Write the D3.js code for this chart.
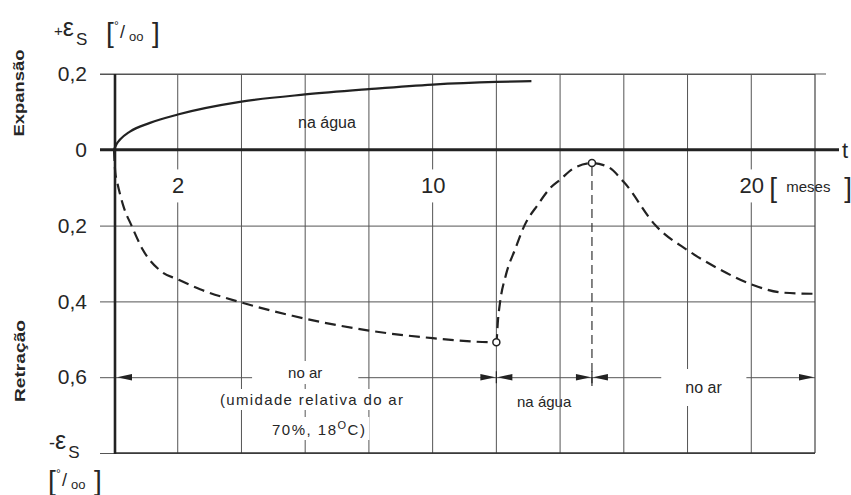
<!DOCTYPE html>
<html><head><meta charset="utf-8">
<script src="https://cdn.jsdelivr.net/npm/d3@7/dist/d3.min.js"></script>
<style>body{margin:0;background:#fff}svg{display:block}</style>
</head><body><svg id="c" width="851" height="495"></svg>
<script>
// ---------- data ----------
const solidT = [0, 0.08, 0.19, 0.5, 1.13, 2, 4, 6, 8, 10, 12, 13.1];
const solidV = [0, 0.015, 0.027, 0.048, 0.071, 0.093, 0.127, 0.146, 0.16, 0.172, 0.179, 0.181];
const dashedT = [0, 0.04, 0.1, 0.3, 0.55, 0.9, 1.5, 2, 2.7, 4, 5.6, 8, 10, 12,
                 12.05, 12.12, 12.3, 12.6, 12.88, 13.3, 13.7, 14, 14.4, 15,
                 15.5, 16, 17, 18, 19, 20, 21, 22];
const dashedV = [0, -0.06, -0.085, -0.15, -0.2, -0.263, -0.322, -0.342, -0.368, -0.403, -0.438, -0.477, -0.497, -0.508,
                 -0.45, -0.4, -0.33, -0.26, -0.2, -0.145, -0.1, -0.079, -0.05, -0.035,
                 -0.045, -0.085, -0.2, -0.265, -0.315, -0.355, -0.377, -0.38];
const markerT = [12, 15];
const markerV = [-0.508, -0.035];
const gridT = [2, 4, 6, 8, 10, 12, 14, 16, 18, 20];
const gridV = [0.2, -0.2, -0.4, -0.6, -0.8];
const yTicks = [0.2, 0, -0.2, -0.4, -0.6];
const xTicks = [2, 10, 20];
const phaseBounds = [0, 12, 15, 22];
const phaseLabels = ["no ar", "na água", "no ar"];
const phaseLevel = -0.6;

// ---------- setup ----------
const svg = d3.select("#c");
const FONT = "'Liberation Sans', Arial, sans-serif";
const INK = "#262626";
const x = d3.scaleLinear().domain([0, 22]).range([114, 815]);
const y = d3.scaleLinear().domain([-0.8, 0.2]).range([453, 74]);

const gGrid = svg.append("g");
const gMask = svg.append("g");
const gMain = svg.append("g");

function mask(node, px, py) {
  const b = node.getBoundingClientRect();
  gMask.append("rect").attr("x", b.left - px).attr("y", b.top - py)
    .attr("width", b.width + 2 * px).attr("height", b.height + 2 * py).attr("fill", "#fff");
}

// ---------- grid ----------
gGrid.selectAll("line.v").data(gridT).join("line")
  .attr("x1", d => x(d)).attr("x2", d => x(d))
  .attr("y1", y(0.2)).attr("y2", y(-0.8))
  .attr("stroke", "#555").attr("stroke-width", 1);

const gh = gGrid.append("g").attr("transform", "translate(100,0)")
  .call(d3.axisLeft(y).tickValues(gridV).tickSize(-(x(22) - 100)).tickFormat(""));
gh.select(".domain").remove();
gh.selectAll("line").attr("stroke", "#555").attr("stroke-width", 1);

// ---------- frame ----------
gMain.append("line").attr("x1", 100).attr("x2", 826).attr("y1", y(0.2)).attr("y2", y(0.2))
  .attr("stroke", "#555").attr("stroke-width", 1.2);
gMain.append("line").attr("x1", x(22)).attr("x2", x(22)).attr("y1", y(0.2)).attr("y2", y(-0.8))
  .attr("stroke", "#444").attr("stroke-width", 1.2);
gMain.append("line").attr("x1", x(0)).attr("x2", x(22)).attr("y1", y(-0.8)).attr("y2", y(-0.8))
  .attr("stroke", "#333").attr("stroke-width", 1.6);
gMain.append("line").attr("x1", x(0) + 1).attr("x2", x(0) + 1).attr("y1", y(0.2)).attr("y2", y(-0.8) + 1)
  .attr("stroke", "#222").attr("stroke-width", 2.6);
gMain.append("line").attr("x1", 100).attr("x2", 839).attr("y1", y(0)).attr("y2", y(0))
  .attr("stroke", "#222").attr("stroke-width", 3);

// ---------- axis labels ----------
const fmtY = d => d === 0 ? "0" : Math.abs(d).toFixed(1).replace(".", ",");
const gyl = gMain.append("g").attr("transform", "translate(100,0)")
  .call(d3.axisLeft(y).tickValues(yTicks).tickFormat(fmtY).tickSize(0).tickPadding(13));
gyl.select(".domain").remove();
gyl.selectAll("text").attr("font-family", FONT).attr("font-size", 21).attr("fill", INK);

const gxl = gMain.append("g").attr("transform", `translate(0,${y(0)})`)
  .call(d3.axisBottom(x).tickValues(xTicks).tickFormat(d => d).tickSize(0).tickPadding(28));
gxl.select(".domain").remove();
gxl.selectAll("text").attr("font-family", FONT).attr("font-size", 22).attr("fill", INK);
gxl.selectAll("text").each(function () { mask(this, 4, 4); });

// units of the time axis
const unitG = gMain.append("g");
const ub1 = unitG.append("text").attr("x", x(20) + 18).attr("y", 197).attr("font-family", FONT)
  .attr("font-size", 28).attr("font-weight", 300).attr("fill", INK).text("[");
const ub2 = unitG.append("text").attr("x", x(20) + 35).attr("y", 192).attr("font-family", FONT)
  .attr("font-size", 15).attr("fill", INK).text("meses");
const ub3 = unitG.append("text").attr("x", x(20) + 93).attr("y", 197).attr("font-family", FONT)
  .attr("font-size", 28).attr("fill", INK).text("]");
mask(ub1.node(), 3, 0); mask(ub2.node(), 3, 6); mask(ub3.node(), 2, 0);
gMain.append("text").attr("x", 842).attr("y", 158).attr("font-family", FONT)
  .attr("font-size", 22).attr("fill", INK).text("t");

// strain symbols
function strain(g, x0, y0, sign) {
  const t = g.append("text").attr("font-family", FONT).attr("fill", INK);
  t.append("tspan").attr("x", x0).attr("y", y0).attr("font-size", sign === "+" ? 15 : 18).text(sign);
  t.append("tspan").attr("font-size", 25).text("ε");
  t.append("tspan").attr("dy", 9).attr("dx", 2).attr("font-size", 17).text("S");
}
function perMille(g, x0, y0) {
  const t = g.append("text").attr("font-family", FONT).attr("fill", INK);
  t.append("tspan").attr("x", x0).attr("y", y0).attr("font-size", 28).text("[");
  t.append("tspan").attr("x", x0 + 8).attr("y", y0 - 12).attr("font-size", 12).text("°");
  t.append("tspan").attr("x", x0 + 14).attr("y", y0 - 4).attr("font-size", 18).text("/");
  t.append("tspan").attr("x", x0 + 23).attr("y", y0 - 1).attr("font-size", 13).text("oo");
  t.append("tspan").attr("x", x0 + 46).attr("y", y0).attr("font-size", 28).text("]");
}
strain(gMain, 54, 36, "+");
perMille(gMain, 106, 42);
strain(gMain, 49, 449, "-");
perMille(gMain, 48, 490);

gMain.append("text").attr("transform", "translate(24,93) rotate(-90)")
  .attr("text-anchor", "middle").attr("font-family", FONT).attr("font-weight", "bold")
  .attr("font-size", 15).attr("textLength", 87).attr("lengthAdjust", "spacingAndGlyphs")
  .attr("fill", INK).text("Expansão");
gMain.append("text").attr("transform", "translate(25,361) rotate(-90)")
  .attr("text-anchor", "middle").attr("font-family", FONT).attr("font-weight", "bold")
  .attr("font-size", 15).attr("textLength", 82).attr("lengthAdjust", "spacingAndGlyphs")
  .attr("fill", INK).text("Retração");

// ---------- curves ----------
const line = d3.line().x(d => x(d[0])).y(d => y(d[1])).curve(d3.curveMonotoneX);
gMain.append("path").datum(solidT.map((t, i) => [t, solidV[i]]))
  .attr("d", line).attr("fill", "none").attr("stroke", "#222").attr("stroke-width", 2.2);
gMain.append("path").datum(dashedT.map((t, i) => [t, dashedV[i]]))
  .attr("d", line).attr("fill", "none").attr("stroke", "#222").attr("stroke-width", 2.2)
  .attr("stroke-dasharray", "11,6");

// vertical dashed marker from peak
gMain.append("line").attr("x1", x(markerT[1])).attr("x2", x(markerT[1]))
  .attr("y1", y(markerV[1]) + 4).attr("y2", y(phaseLevel) + 10)
  .attr("stroke", "#333").attr("stroke-width", 1.2).attr("stroke-dasharray", "9,5");
gMain.selectAll("circle.m").data(markerT).join("circle")
  .attr("cx", d => x(d)).attr("cy", (d, i) => y(markerV[i])).attr("r", 3.5)
  .attr("fill", "#fff").attr("stroke", "#222").attr("stroke-width", 1.5);

// ---------- phases ----------
const py = y(phaseLevel);
function arrow(tip, dir) {
  const L = 15, h = 3.2;
  gMain.append("path")
    .attr("d", `M${tip},${py} L${tip - dir * L},${py - h} L${tip - dir * L},${py + h} Z`)
    .attr("fill", "#222");
}
phaseBounds.forEach((b, i) => {
  if (i > 0) arrow(x(b) - 1, 1);
  if (i < phaseBounds.length - 1) arrow(x(b) + (i === 0 ? 3 : 1), -1);
});
phaseBounds.slice(1).forEach((b, i) => {
  if (i < phaseBounds.length - 2) {
    gMain.append("line").attr("x1", x(b)).attr("x2", x(b)).attr("y1", py - 6).attr("y2", py + 6)
      .attr("stroke", "#222").attr("stroke-width", 1.2);
  }
});

function label(tx, ty, str, size, ls) {
  return gMain.append("text").attr("x", tx).attr("y", ty).attr("text-anchor", "middle")
    .attr("font-family", FONT).attr("font-size", size).attr("letter-spacing", ls || 0)
    .attr("fill", INK).text(str);
}
const mid = i => x((phaseBounds[i] + phaseBounds[i + 1]) / 2);
const l1 = label(mid(0), 378, phaseLabels[0], 15);
mask(l1.node(), 36, 3);
const l1b = label(mid(0) + 7, 405, "(umidade relativa do ar", 15, 1.35);
mask(l1b.node(), 3, 2);
const l1c = gMain.append("text").attr("x", mid(0) + 14).attr("y", 435).attr("text-anchor", "middle")
  .attr("font-family", FONT).attr("font-size", 15).attr("letter-spacing", 1.5).attr("fill", INK);
l1c.append("tspan").text("70%, 18");
l1c.append("tspan").attr("dy", -6).attr("font-size", 11).text("O");
l1c.append("tspan").attr("dy", 6).text("C)");
mask(l1c.node(), 3, 2);
const l2 = label(mid(1), 407, phaseLabels[1], 15);
const l3 = label(mid(2), 393, phaseLabels[2], 16);
mask(l3.node(), 24, 10);

label(327, 128, "na água", 16);
</script></body></html>
